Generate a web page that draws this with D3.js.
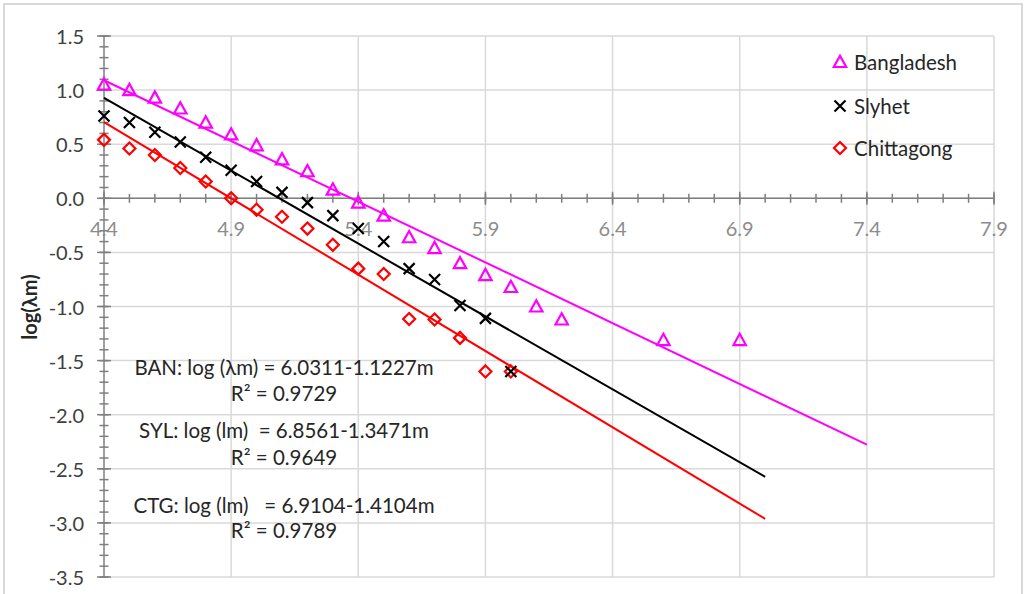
<!DOCTYPE html>
<html>
<head>
<meta charset="utf-8">
<script src="https://cdn.jsdelivr.net/npm/d3@7"></script>
<style>
  html, body { margin: 0; padding: 0; background: #fff; }
  svg { display: block; }
  text { font-family: Lato, "Open Sans", sans-serif; }
</style>
</head>
<body>
<div id="chart"></div>
<script>
// ---- Data ----
const banX = [4.4,4.5,4.6,4.7,4.8,4.9,5.0,5.1,5.2,5.3,5.4,5.5,5.6,5.7,5.8,5.9,6.0,6.1,6.2,6.6,6.9];
const banY = [1.05,1.0,0.93,0.83,0.70,0.59,0.49,0.36,0.25,0.08,-0.04,-0.16,-0.36,-0.46,-0.60,-0.71,-0.82,-1.0,-1.12,-1.31,-1.31];
const sylX = [4.4,4.5,4.6,4.7,4.8,4.9,5.0,5.1,5.2,5.3,5.4,5.5,5.6,5.7,5.8,5.9,6.0];
const sylY = [0.76,0.70,0.61,0.52,0.38,0.26,0.155,0.055,-0.04,-0.16,-0.28,-0.40,-0.65,-0.75,-0.99,-1.11,-1.60];
const ctgX = [4.4,4.5,4.6,4.7,4.8,4.9,5.0,5.1,5.2,5.3,5.4,5.5,5.6,5.7,5.8,5.9,6.0];
const ctgY = [0.54,0.46,0.40,0.28,0.155,0.0,-0.105,-0.17,-0.28,-0.43,-0.65,-0.70,-1.115,-1.12,-1.29,-1.60,-1.60];

const seriesNames = ["Bangladesh", "Slyhet", "Chittagong"];
const trendIntercepts = [6.0311, 6.8561, 6.9104];
const trendSlopes = [-1.1227, -1.3471, -1.4104];
const trendStart = [4.4, 4.4, 4.4];
const trendEnd = [7.4, 7.0, 7.0];

const xTicks = [4.4, 4.9, 5.4, 5.9, 6.4, 6.9, 7.4, 7.9];
const yTicks = [1.5, 1.0, 0.5, 0.0, -0.5, -1.0, -1.5, -2.0, -2.5, -3.0, -3.5];

const annotationLines = [
  "BAN: log (\u03BBm) = 6.0311-1.1227m",
  "R\u00B2 = 0.9729",
  "SYL: log (lm)  = 6.8561-1.3471m",
  "R\u00B2 = 0.9649",
  "CTG: log (lm)   = 6.9104-1.4104m",
  "R\u00B2 = 0.9789"
];

// ---- Layout ----
const W = 1028, H = 594;
const colors = ["#FF00FF", "#000000", "#FF0000"];
const svg = d3.select("#chart").append("svg").attr("width", W).attr("height", H);

// outer frame
svg.append("rect").attr("x", 4).attr("y", 4).attr("width", 1018).attr("height", 600)
  .attr("fill", "#fff").attr("stroke", "#d9d9d9").attr("stroke-width", 2);

const x = d3.scaleLinear().domain([4.4, 7.9]).range([104, 994]);
const y = d3.scaleLinear().domain([-3.5, 1.5]).range([577, 36]);

// gridlines
const grid = svg.append("g");
grid.selectAll("line.h").data(yTicks).join("line")
  .attr("x1", x(4.4)).attr("x2", x(7.9))
  .attr("y1", d => y(d)).attr("y2", d => y(d))
  .attr("stroke", "#d9d9d9").attr("stroke-width", 1.5);
grid.selectAll("line.v").data(xTicks.slice(1)).join("line")
  .attr("x1", d => x(d)).attr("x2", d => x(d))
  .attr("y1", y(1.5)).attr("y2", y(-3.5))
  .attr("stroke", "#d9d9d9").attr("stroke-width", 1.5);

// axes
const axisColor = "#7f7f7f";
const minorX = d3.range(44, 80).map(v => v / 10);
const minorY = d3.range(-35, 16).map(v => v / 10);

const ax = svg.append("g");
ax.append("line").attr("x1", x(4.4)).attr("x2", x(7.9)).attr("y1", y(0)).attr("y2", y(0))
  .attr("stroke", axisColor).attr("stroke-width", 1.5);
ax.selectAll("line.mx").data(minorX).join("line")
  .attr("x1", d => x(d)).attr("x2", d => x(d))
  .attr("y1", y(0) - 4.5).attr("y2", y(0) + 4.5)
  .attr("stroke", axisColor).attr("stroke-width", 1.5);
ax.selectAll("line.Mx").data(xTicks).join("line")
  .attr("x1", d => x(d)).attr("x2", d => x(d))
  .attr("y1", y(0) - 6.5).attr("y2", y(0) + 6.5)
  .attr("stroke", axisColor).attr("stroke-width", 1.5);

ax.append("line").attr("x1", x(4.4)).attr("x2", x(4.4)).attr("y1", y(1.5)).attr("y2", y(-3.5))
  .attr("stroke", axisColor).attr("stroke-width", 1.5);
ax.selectAll("line.my").data(minorY).join("line")
  .attr("x1", x(4.4) - 4.5).attr("x2", x(4.4) + 4.5)
  .attr("y1", d => y(d)).attr("y2", d => y(d))
  .attr("stroke", axisColor).attr("stroke-width", 1.5);
ax.selectAll("line.My").data(yTicks).join("line")
  .attr("x1", x(4.4) - 7).attr("x2", x(4.4) + 7)
  .attr("y1", d => y(d)).attr("y2", d => y(d))
  .attr("stroke", axisColor).attr("stroke-width", 1.5);

// tick labels
svg.append("g").selectAll("text").data(yTicks).join("text")
  .attr("x", 84).attr("y", d => y(d))
  .attr("text-anchor", "end").attr("dominant-baseline", "central")
  .attr("font-size", 20).attr("fill", "#404040")
  .text(d => d3.format(".1f")(d).replace("−", "-"));

svg.append("g").selectAll("text").data(xTicks).join("text")
  .attr("x", d => x(d)).attr("y", 228)
  .attr("text-anchor", "middle").attr("dominant-baseline", "central")
  .attr("font-size", 20).attr("fill", "#8c8c8c")
  .text(d => d3.format(".1f")(d));

// y-axis title
svg.append("text")
  .attr("transform", "translate(29,307) rotate(-90)")
  .attr("text-anchor", "middle").attr("dominant-baseline", "central")
  .attr("font-size", 20).attr("font-weight", "bold").attr("fill", "#262626")
  .text("log(\u03BBm)");

// trendlines
const trends = svg.append("g");
seriesNames.forEach((name, i) => {
  const pts = [trendStart[i], trendEnd[i]].map(m => [m, trendIntercepts[i] + trendSlopes[i] * m]);
  trends.append("path")
    .attr("d", d3.line().x(d => x(d[0])).y(d => y(d[1]))(pts))
    .attr("fill", "none").attr("stroke", colors[i]).attr("stroke-width", 2);
});

// markers
const triPath = "M0,-6.3 L6.2,5 L-6.2,5 Z";
const crossPath = "M-5.5,-5.5 L5.5,5.5 M-5.5,5.5 L5.5,-5.5";
const diaPath = "M0,-6 L6,0 L0,6 L-6,0 Z";
const markerPaths = [triPath, crossPath, diaPath];
const seriesData = [
  d3.zip(banX, banY),
  d3.zip(sylX, sylY),
  d3.zip(ctgX, ctgY)
];
const drawOrder = [0, 2, 1];
const mk = svg.append("g");
drawOrder.forEach(i => {
  mk.append("g").selectAll("path").data(seriesData[i]).join("path")
    .attr("transform", d => `translate(${x(d[0])},${y(d[1])})`)
    .attr("d", markerPaths[i])
    .attr("fill", "none").attr("stroke", colors[i]).attr("stroke-width", 2.2);
});

// legend
const legendY = [62, 106, 148];
const lg = svg.append("g");
seriesNames.forEach((name, i) => {
  lg.append("path").attr("transform", `translate(840,${legendY[i]})`)
    .attr("d", markerPaths[i]).attr("fill", "none").attr("stroke", colors[i]).attr("stroke-width", 2.2);
  lg.append("text").attr("x", 854).attr("y", legendY[i])
    .attr("dominant-baseline", "central").attr("font-size", 20.5).attr("fill", "#262626")
    .text(name);
});

// annotation
const annY = [367, 393, 430, 457, 505, 530];
svg.append("g").selectAll("text").data(annotationLines).join("text")
  .attr("x", 284).attr("y", (d, i) => annY[i])
  .attr("text-anchor", "middle").attr("dominant-baseline", "central")
  .attr("font-size", 20.5).attr("fill", "#262626")
  .style("white-space", "pre")
  .text(d => d);
</script>
</body>
</html>
